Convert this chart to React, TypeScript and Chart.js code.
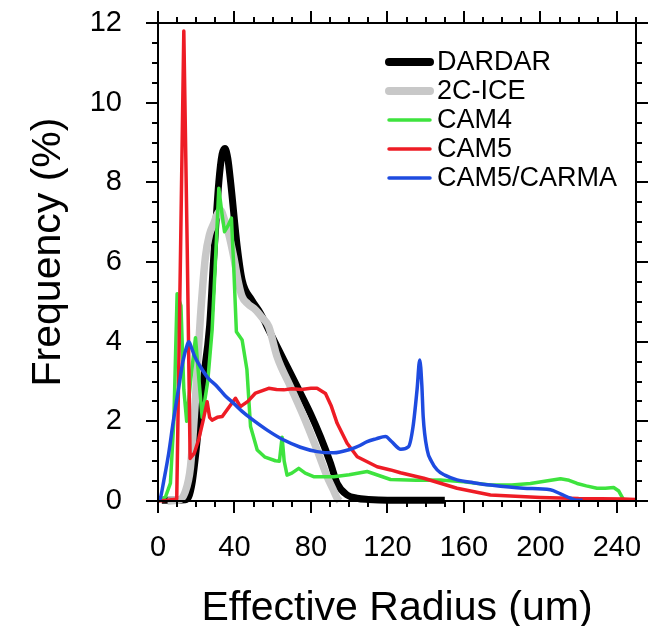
import React, { useEffect, useRef } from 'react';
import { Chart, registerables } from 'chart.js';

Chart.register(...registerables);

const xTicks = [0, 40, 80, 120, 160, 200, 240];
const yTicks = [0, 2, 4, 6, 8, 10, 12];
const xMinorStep = 10;
const yMinorStep = 0.5;

const seriesLabels = ['DARDAR', '2C-ICE', 'CAM4', 'CAM5', 'CAM5/CARMA'];

const dardarX = [2, 10, 14, 16, 18, 20, 23, 27, 29, 31.8, 33.5, 35, 36.5, 38, 41.4, 44, 49, 53.6, 58.8, 65.8, 72.8, 79.7, 85, 90.2, 93.7, 98.9, 104, 110, 120, 130, 140, 150];
const dardarY = [0.02, 0.02, 0.03, 0.1, 0.5, 1.3, 2.8, 4.4, 6.0, 8.0, 8.7, 8.85, 8.6, 8.0, 6.4, 5.55, 5.05, 4.71, 4.21, 3.54, 2.87, 2.2, 1.61, 0.95, 0.44, 0.15, 0.07, 0.04, 0.02, 0.02, 0.02, 0.02];

const iceX = [5, 10.7, 14, 17, 19.5, 22.2, 24.8, 27, 29.2, 31, 32.7, 34.5, 37, 39.6, 42, 44, 47, 51, 54.5, 57.9, 62.3, 69.3, 76.2, 83.2, 88.5, 91.5, 93.7, 95];
const iceY = [0, 0.02, 0.2, 0.86, 2.5, 4.63, 6.13, 6.7, 6.97, 7.2, 7.3, 7.1, 6.7, 6.13, 5.5, 5.13, 4.95, 4.8, 4.6, 4.38, 3.62, 2.87, 2.12, 1.28, 0.61, 0.3, 0.07, 0];

const cam4X = [0, 3.9, 6.5, 8.3, 10, 12, 13.5, 15, 17, 19.6, 21.5, 23.1, 26, 28.3, 30, 31.8, 33.5, 34.8, 36.5, 38.4, 39.5, 41, 44, 46.5, 48.4, 51.9, 56, 61.4, 63.5, 64.9, 66, 67.5, 70, 73.6, 77, 81.4, 91.9, 100, 109.4, 121.6, 135, 147.7, 160, 173.9, 185, 194.8, 203, 210.5, 215, 219.2, 224, 229.6, 234, 238.3, 241, 243.6];
const cam4Y = [0, 0.1, 0.45, 2.03, 5.2, 4.9, 2.8, 2.0, 3.0, 4.1, 3.0, 2.1, 3.0, 4.29, 5.97, 7.85, 7.2, 6.76, 6.9, 7.1, 6.0, 4.25, 4.04, 3.3, 1.87, 1.28, 1.1, 1.01, 1.0, 1.6, 1.0, 0.65, 0.7, 0.82, 0.7, 0.61, 0.61, 0.66, 0.74, 0.54, 0.52, 0.53, 0.48, 0.4, 0.4, 0.44, 0.5, 0.56, 0.52, 0.44, 0.38, 0.32, 0.32, 0.34, 0.25, 0.02];

const cam5X = [0, 5, 9.8, 11.8, 13.5, 15.3, 16.8, 19, 21.3, 23.5, 25.7, 27, 28.3, 31, 33.6, 37, 40.5, 43.1, 47, 51, 57.9, 62, 65.8, 70, 75, 80, 83.2, 87.6, 90.5, 93.7, 98.9, 104.2, 114.6, 121.6, 126.8, 139, 156.4, 173.9, 200, 220, 243.4, 250];
const cam5Y = [0, 0.02, 0.05, 6.3, 11.8, 6.3, 1.07, 1.2, 1.55, 2.0, 2.49, 2.1, 2.03, 2.1, 2.12, 2.35, 2.58, 2.37, 2.5, 2.71, 2.83, 2.8, 2.79, 2.82, 2.8, 2.83, 2.83, 2.7, 2.4, 1.95, 1.45, 1.11, 0.86, 0.78, 0.71, 0.57, 0.32, 0.15, 0.09, 0.06, 0.05, 0.04];

const carmaX = [0.5, 1.3, 3, 5.6, 8, 10.9, 13, 15.3, 16.1, 17.5, 19, 22.2, 26, 31, 35, 39.6, 44, 48.4, 57.1, 65.8, 74.5, 83.2, 91.9, 100.7, 105, 109.4, 114, 119, 122, 127, 131, 133.4, 135.5, 136.9, 138, 138.7, 140.8, 143, 146, 150, 156.4, 165, 173.9, 191.1, 205.2, 210.5, 215.7, 219, 222];
const carmaY = [0, 0.08, 0.5, 1.2, 2.0, 2.87, 3.5, 3.92, 4.0, 3.85, 3.65, 3.37, 3.1, 2.87, 2.65, 2.45, 2.25, 2.08, 1.78, 1.53, 1.35, 1.24, 1.21, 1.3, 1.38, 1.49, 1.56, 1.62, 1.5, 1.3, 1.36, 1.87, 2.8, 3.54, 2.9, 2.12, 1.28, 1.0, 0.78, 0.65, 0.53, 0.46, 0.4, 0.32, 0.28, 0.18, 0.07, 0.02, 0.02];

const FONT = '"Liberation Sans", Arial, Helvetica, sans-serif';

const toPoints = (xs: number[], ys: number[]) => xs.map((x, i) => ({ x, y: ys[i] }));

const zeroPad = (s: any) => {
  s.paddingTop = 0;
  s.paddingBottom = 0;
  s.paddingLeft = 0;
  s.paddingRight = 0;
};

const framePlugin = {
  id: 'frameTicks',
  afterDatasetsDraw(chart: any) {
    const { ctx, chartArea } = chart;
    const xs = chart.scales.x;
    const ys = chart.scales.y;
    const { left, right, top, bottom } = chartArea;
    ctx.save();
    ctx.strokeStyle = '#000';
    ctx.lineWidth = 2;
    ctx.lineCap = 'butt';
    ctx.strokeRect(left, top, right - left, bottom - top);
    const major = 12;
    const minor = 6;
    ctx.beginPath();
    for (let v = 0; v <= 250 + 1e-6; v += xMinorStep) {
      const isMajor = xTicks.includes(Math.round(v));
      const len = isMajor ? major : minor;
      const px = Math.round(xs.getPixelForValue(v));
      ctx.moveTo(px, bottom);
      ctx.lineTo(px, bottom + len);
      ctx.moveTo(px, top);
      ctx.lineTo(px, top - len);
    }
    for (let v = 0; v <= 12 + 1e-6; v += yMinorStep) {
      const isMajor = yTicks.includes(v);
      const len = isMajor ? major : minor;
      const py = Math.round(ys.getPixelForValue(v));
      ctx.moveTo(left, py);
      ctx.lineTo(left - len, py);
      ctx.moveTo(right, py);
      ctx.lineTo(right + len, py);
    }
    ctx.stroke();
    ctx.restore();
  },
};

const legendPlugin = {
  id: 'customLegend',
  afterDraw(chart: any) {
    const { ctx } = chart;
    ctx.save();
    ctx.font = `27px ${FONT}`;
    ctx.textBaseline = 'middle';
    ctx.textAlign = 'left';
    chart.data.datasets.forEach((ds: any, i: number) => {
      const yy = 62 + i * 29;
      ctx.beginPath();
      ctx.strokeStyle = ds.borderColor;
      ctx.lineWidth = ds.legendWidth;
      ctx.lineCap = 'round';
      ctx.moveTo(389, yy);
      ctx.lineTo(430, yy);
      ctx.stroke();
      ctx.fillStyle = '#000';
      ctx.fillText(ds.label, 437, yy + 1);
    });
    ctx.restore();
  },
};

const titlePlugin = {
  id: 'axisTitles',
  afterDraw(chart: any) {
    const { ctx, chartArea } = chart;
    ctx.save();
    ctx.fillStyle = '#000';
    ctx.font = `41px ${FONT}`;
    ctx.textAlign = 'center';
    ctx.textBaseline = 'alphabetic';
    ctx.fillText('Effective Radius (um)', (chartArea.left + chartArea.right) / 2, 620);
    ctx.translate(60, 252);
    ctx.rotate(-Math.PI / 2);
    ctx.fillText('Frequency (%)', 0, 0);
    ctx.restore();
  },
};

export default function App() {
  const ref = useRef<HTMLCanvasElement | null>(null);
  useEffect(() => {
    if (!ref.current) return;
    const common = { showLine: true, pointRadius: 0, borderJoinStyle: 'round', clip: false, tension: 0 };
    const smooth = { cubicInterpolationMode: 'monotone' };
    const chart = new Chart(ref.current, {
      type: 'scatter',
      data: {
        datasets: [
          { ...common, ...smooth, label: seriesLabels[0], data: toPoints(dardarX, dardarY), borderColor: '#000000', borderWidth: 7, legendWidth: 8, order: 5 },
          { ...common, ...smooth, label: seriesLabels[1], data: toPoints(iceX, iceY), borderColor: '#c8c8c8', borderWidth: 7.5, legendWidth: 8, order: 4 },
          { ...common, label: seriesLabels[2], data: toPoints(cam4X, cam4Y), borderColor: '#3ee33e', borderWidth: 3.5, legendWidth: 3.5, order: 3 },
          { ...common, label: seriesLabels[3], data: toPoints(cam5X, cam5Y), borderColor: '#ee1c25', borderWidth: 3.5, legendWidth: 3.5, order: 2 },
          { ...common, ...smooth, label: seriesLabels[4], data: toPoints(carmaX, carmaY), borderColor: '#1e4be0', borderWidth: 3.5, legendWidth: 3.5, order: 1 },
        ] as any,
      },
      options: {
        animation: false,
        responsive: false,
        maintainAspectRatio: false,
        events: [],
        layout: { padding: { top: 23, right: 16, left: 0, bottom: 0 } },
        plugins: { legend: { display: false }, tooltip: { enabled: false }, title: { display: false } },
        scales: {
          x: {
            type: 'linear',
            min: 0,
            max: 250,
            afterBuildTicks: (s: any) => { s.ticks = xTicks.map((v) => ({ value: v })); },
            afterFit: (s: any) => { s.height = 125; zeroPad(s); },
            grid: { display: false, drawTicks: false },
            border: { display: false },
            ticks: { font: { family: FONT, size: 29 }, color: '#000', padding: 30, maxRotation: 0, autoSkip: false },
          },
          y: {
            type: 'linear',
            min: 0,
            max: 12,
            afterBuildTicks: (s: any) => { s.ticks = yTicks.map((v) => ({ value: v })); },
            afterFit: (s: any) => { s.width = 158; zeroPad(s); },
            grid: { display: false, drawTicks: false },
            border: { display: false },
            ticks: { font: { family: FONT, size: 29 }, color: '#000', padding: 36, autoSkip: false },
          },
        },
      } as any,
      plugins: [framePlugin, legendPlugin, titlePlugin],
    });
    return () => chart.destroy();
  }, []);
  return (
    <canvas
      ref={ref}
      width={652}
      height={626}
      style={{ position: 'absolute', left: 0, top: 0, width: 652, height: 626, display: 'block', background: '#fff' }}
    />
  );
}
